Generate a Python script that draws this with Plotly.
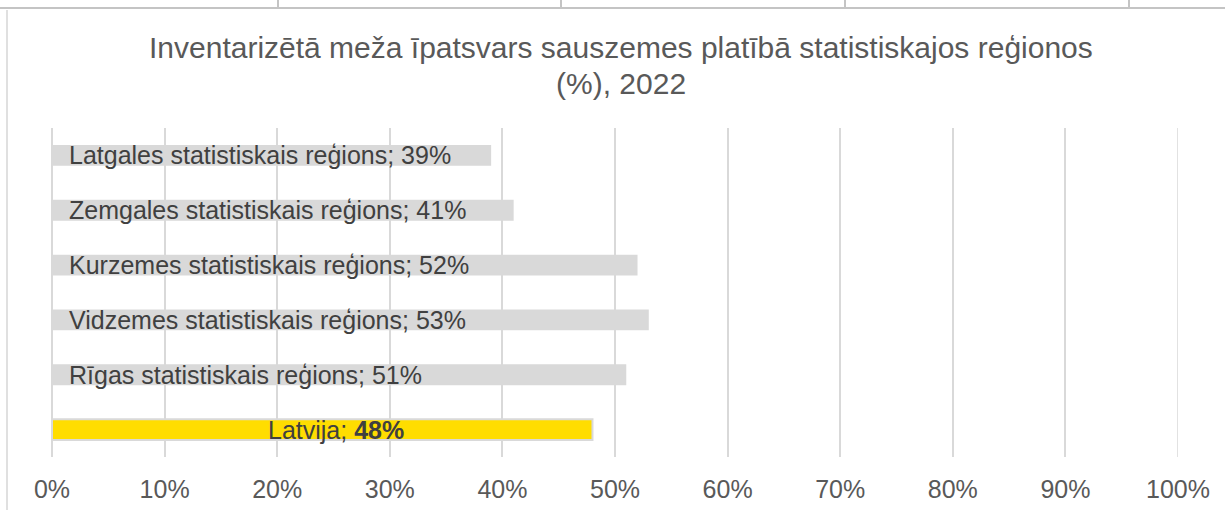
import plotly.graph_objects as go

# Data (bottom to top)
categories = ["Latvija", "Rīgas statistiskais reģions", "Vidzemes statistiskais reģions",
              "Kurzemes statistiskais reģions", "Zemgales statistiskais reģions",
              "Latgales statistiskais reģions"]
values = [48, 51, 53, 52, 41, 39]
tick_vals = [0, 10, 20, 30, 40, 50, 60, 70, 80, 90, 100]
tick_labels = ["0%", "10%", "20%", "30%", "40%", "50%", "60%", "70%", "80%", "90%", "100%"]
title_lines = ["Inventarizētā meža īpatsvars sauszemes platībā statistiskajos reģionos",
               "(%), 2022"]

W, H = 1225, 510
L, R, T, B = 52, 47, 128, 53
PW, PH = W - L - R, H - T - B

def px_x(p):
    return (p - L) / PW

def px_y(p):
    return (H - B - p) / PH

GRAY = "#D9D9D9"
YELLOW = "#FFDD00"
FONT = "Liberation Sans, Arial, sans-serif"

colors = [YELLOW if c == "Latvija" else GRAY for c in categories]
line_w = [2 if c == "Latvija" else 0 for c in categories]

fig = go.Figure(go.Bar(
    x=values, y=categories, orientation="h",
    marker=dict(color=colors, line=dict(color=GRAY, width=line_w)),
    hoverinfo="skip",
))

annotations = []
for c, v in zip(categories, values):
    if c == "Latvija":
        annotations.append(dict(x=v / 2, y=c, xref="x", yref="y", xshift=14,
                                text=f"{c}; <b>{v}%</b>", showarrow=False,
                                xanchor="center", yanchor="middle",
                                font=dict(family=FONT, size=25, color="#404040")))
    else:
        annotations.append(dict(x=0, y=c, xref="x", yref="y", xshift=15,
                                text=f"{c}; {v}%", showarrow=False,
                                xanchor="left", yanchor="middle",
                                font=dict(family=FONT, size=25, color="#404040")))

# title as two centered lines
for line, yc in zip(title_lines, [47, 83]):
    annotations.append(dict(x=px_x(621), y=px_y(yc), xref="paper", yref="paper",
                            text=line, showarrow=False, xanchor="center", yanchor="middle",
                            font=dict(family=FONT, size=30, color="#595959")))

shapes = []
# top table border lines
shapes.append(dict(type="line", xref="paper", yref="paper",
                   x0=px_x(0), x1=px_x(W), y0=px_y(8), y1=px_y(8),
                   line=dict(color="#C4C4C4", width=2), layer="above"))
for xp in [278, 561, 845, 1129]:
    shapes.append(dict(type="line", xref="paper", yref="paper",
                       x0=px_x(xp), x1=px_x(xp), y0=px_y(0), y1=px_y(7),
                       line=dict(color="#C4C4C4", width=2), layer="above"))
# left border of chart frame
shapes.append(dict(type="line", xref="paper", yref="paper",
                   x0=px_x(7), x1=px_x(7), y0=px_y(10), y1=px_y(H),
                   line=dict(color="#E0E0E0", width=2), layer="above"))
# right-edge 100% gridline (so it is not clipped by the plot edge)
shapes.append(dict(type="line", xref="x", yref="paper",
                   x0=100, x1=100, y0=0, y1=1,
                   line=dict(color=GRAY, width=1.5), layer="below"))

fig.update_layout(
    width=W, height=H,
    margin=dict(l=L, r=R, t=T, b=B, pad=0, autoexpand=False),
    paper_bgcolor="white", plot_bgcolor="white",
    bargap=0.62,
    showlegend=False,
    xaxis=dict(range=[0, 100], tickvals=tick_vals, ticktext=tick_labels,
               showgrid=True, gridcolor=GRAY, gridwidth=1.5,
               zeroline=True, zerolinecolor=GRAY, zerolinewidth=1.5,
               showline=False, ticks="", ticklabelstandoff=15, automargin=False,
               tickfont=dict(family=FONT, size=25, color="#595959"),
               fixedrange=True),
    yaxis=dict(categoryorder="array", categoryarray=categories,
               showticklabels=False, showgrid=False, zeroline=False,
               showline=False, ticks="", fixedrange=True, automargin=False),
    annotations=annotations,
    shapes=shapes,
)

fig.write_html("out.html", config={"displayModeBar": False},
               post_script="document.body.style.margin='0px';document.body.style.overflow='hidden';")
